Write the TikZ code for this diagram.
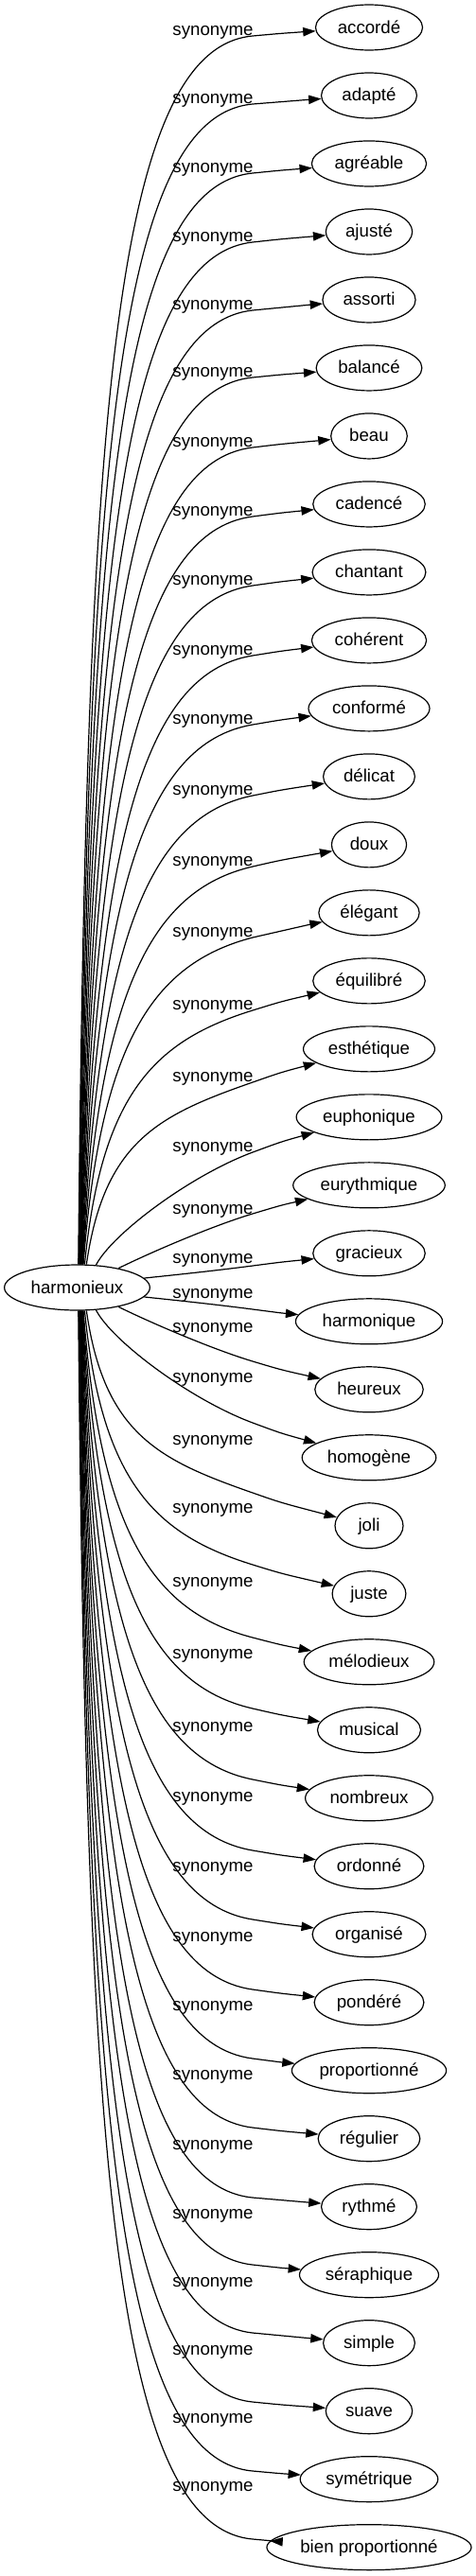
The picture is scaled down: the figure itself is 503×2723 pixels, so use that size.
\documentclass[tikz,border=0pt]{standalone}
\usepackage{fontspec}
\setmainfont{Liberation Sans}
\usetikzlibrary{arrows.meta,shapes.geometric}
\begin{document}
\begin{tikzpicture}[x=0.75pt,y=-0.75pt,
  every node/.style={font=\fontsize{14pt}{16pt}\selectfont},
  word/.style={draw, ellipse, line width=0.9pt, inner xsep=0pt, inner ysep=0pt,
    minimum height=36pt, text height=11pt, text depth=2pt},
  rel/.style={anchor=base, inner sep=0pt},
  link/.style={draw, line width=0.9pt, -{Triangle[length=10pt,width=7pt]}}]
\fontsize{14pt}{16pt}\selectfont
\useasboundingbox (0,0) rectangle (503,2723);
% source node
\pgfmathsetmacro\mynodew{max(54,1.307*width("harmonieux")+19.7)}
\node[word, minimum width=\mynodew pt] (h) at (81.5,1361) {harmonieux};
% target nodes
\foreach \w [count=\i from 0] in {accordé,adapté,agréable,ajusté,assorti,balancé,beau,cadencé,chantant,cohérent,conformé,délicat,doux,élégant,équilibré,esthétique,euphonique,eurythmique,gracieux,harmonique,heureux,homogène,joli,juste,mélodieux,musical,nombreux,ordonné,organisé,pondéré,proportionné,régulier,rythmé,séraphique,simple,suave,symétrique,bien proportionné}{
  \pgfmathsetmacro\mynodew{max(54,1.307*width("\w")+19.7)}
  \node[word, minimum width=\mynodew pt] (t\i) at (390,{29+71.99*\i}) {\w};
}
% edge labels
\foreach \y [count=\i from 0] in {32,104,177,250,322,393,467,540,613,687,760,835,910,985,1062,1138,1212,1278,1330,1367,1403,1456,1522,1594,1672,1748,1825,1899,1973,2047,2120,2193,2267,2340,2412,2484,2556,2628}{
  \node[rel] (l\i) at (225,{\y+5}) {synonyme};
}
% edges: upper half and mirrored lower half
\foreach \k/\ang/\ax/\ay/\bx/\by/\qy/\cy in {
  0/87.6/91.5/454/118.5/51.4/38/35.3,
  1/86.7/92.6/503/121.7/123.1/110/107.3,
  2/85.7/93.8/552.6/125/197.2/183/180,
  3/84.8/94.9/602.2/128.3/271.3/256/252.7,
  4/83.8/96/651.2/131.5/342.9/328/324.7,
  5/82.9/97.1/699.5/134.7/412.2/399/396,
  6/81.9/98.3/749.8/138.1/488.5/473/469.4,
  7/81.0/99.4/799.4/141.4/562.3/546/542.1,
  8/80.1/100.5/849.1/144.6/636.1/619/614.8,
  9/79.2/101.7/899.4/148/712/693/688.2,
  10/78.2/102.8/949/151.3/785.7/766/760.9,
  11/77.3/103.9/1000/154.6/863.5/841/835,
  12/76.4/105.1/1051/158/941.1/916/909.1,
  13/75.5/106.2/1102/161.4/1018.5/991/983.2,
  14/72.6/107.3/1154.4/164.8/1099.7/1068/1058.7,
  15/68.3/110/1206/168.3/1178.5/1144/1133.5,
  16/50/118/1305/200/1243/1218/1206.9,
  17/25.8/163/1322/227/1295/1283/1274,
  18/8/191/1347/227/1343.2/1338/1334.1}{
  \draw[link] (h.\ang) .. controls (\ax,\ay) and (\bx,\by) .. (267,\qy) .. controls (297,\cy) .. (t\k);
  \pgfmathtruncatemacro\j{37-\k}
  \pgfmathsetmacro\may{2722-\ay}
  \pgfmathsetmacro\mby{2722-\by}
  \pgfmathsetmacro\mqy{2722-\qy}
  \pgfmathsetmacro\mcy{2722-\cy}
  \draw[link] (h.-\ang) .. controls (\ax,\may) and (\bx,\mby) .. (267,\mqy) .. controls (297,\mcy) .. (t\j);
}
\end{tikzpicture}
\end{document}
